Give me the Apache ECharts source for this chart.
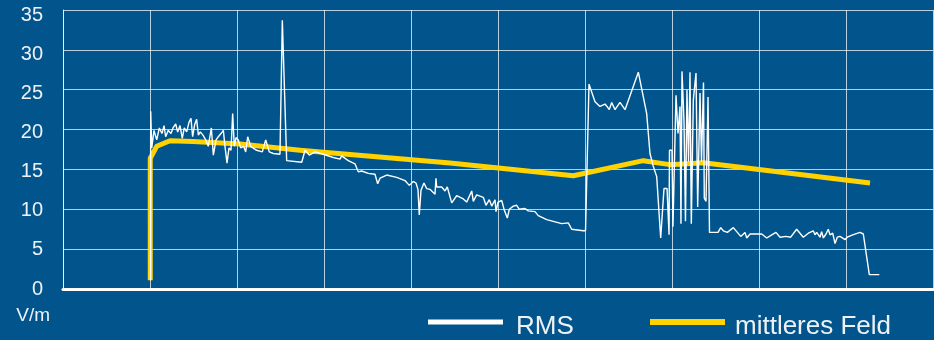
<!DOCTYPE html>
<html>
<head>
<meta charset="utf-8">
<script src="https://cdn.jsdelivr.net/npm/echarts@6/dist/echarts.min.js"></script>
<style>
  html, body { margin: 0; padding: 0; background: #02558c; }
  #container { width: 934px; height: 340px; }
</style>
</head>
<body>
<div id="container"></div>
<script>
// RMS field strength, [position, V/m]
var rmsPoints = [
  [1.006, 1.1], [1.008, 22.3], [1.02, 17.7], [1.046, 19.9], [1.077, 18.7], [1.107, 20.2],
  [1.138, 19.5], [1.161, 20.5], [1.18, 19.1], [1.21, 19.9], [1.241, 19.5], [1.264, 20.2],
  [1.295, 20.7], [1.318, 19.7], [1.345, 20.5], [1.371, 18.9], [1.394, 20.2], [1.422, 19.7],
  [1.448, 20.9], [1.471, 21.4], [1.49, 19.1], [1.513, 20.6], [1.536, 21.3], [1.556, 19.3],
  [1.578, 19.7], [1.609, 19.3], [1.64, 18.7], [1.67, 17.9], [1.705, 20.2], [1.728, 16.8],
  [1.759, 18.7], [1.785, 19.1], [1.816, 19.5], [1.843, 19.9], [1.862, 17.9], [1.885, 15.8],
  [1.908, 17.7], [1.931, 17.4], [1.95, 22.0], [1.969, 17.9], [1.989, 19.0], [2.015, 18.7],
  [2.042, 17.7], [2.077, 17.9], [2.1, 17.2], [2.123, 19.1], [2.157, 17.9], [2.226, 17.4],
  [2.291, 17.2], [2.33, 18.7], [2.371, 17.2], [2.418, 17.0], [2.494, 16.9], [2.521, 33.7],
  [2.571, 16.1], [2.744, 15.9], [2.782, 17.4], [2.831, 16.8], [2.897, 17.2], [2.992, 16.9],
  [3.107, 16.5], [3.184, 16.3], [3.203, 16.7], [3.279, 16.1], [3.356, 15.7], [3.394, 14.7],
  [3.433, 14.8], [3.509, 14.5], [3.586, 14.4], [3.617, 13.2], [3.644, 13.9], [3.721, 14.3],
  [3.836, 14.0], [3.931, 13.6], [3.98, 13.0], [4.026, 13.5], [4.057, 13.3], [4.08, 12.5],
  [4.095, 9.3], [4.115, 12.4], [4.149, 13.3], [4.18, 12.6], [4.218, 12.5], [4.276, 11.9],
  [4.287, 13.9], [4.295, 12.8], [4.353, 12.8], [4.391, 12.3], [4.417, 12.8], [4.468, 10.8],
  [4.525, 11.7], [4.601, 11.3], [4.64, 10.9], [4.698, 12.3], [4.716, 11.0], [4.755, 11.8],
  [4.831, 11.5], [4.862, 10.5], [4.9, 11.2], [4.928, 10.4], [4.966, 11.2], [4.977, 9.7],
  [5.0, 10.9], [5.043, 11.1], [5.072, 9.9], [5.107, 8.9], [5.13, 10.0], [5.176, 10.4],
  [5.215, 10.5], [5.245, 10.0], [5.31, 10.1], [5.348, 9.8], [5.425, 9.7], [5.463, 9.2],
  [5.56, 8.7], [5.732, 8.2], [5.808, 8.3], [5.847, 7.5], [5.98, 7.3], [6.006, 7.3],
  [6.046, 25.7], [6.115, 23.5], [6.172, 22.9], [6.23, 23.2], [6.253, 22.9], [6.279, 22.5],
  [6.307, 23.4], [6.345, 22.5], [6.402, 23.4], [6.46, 22.5], [6.613, 27.2], [6.709, 22.0],
  [6.747, 17.0], [6.782, 15.5], [6.824, 14.1], [6.87, 6.4], [6.908, 12.6], [6.943, 12.6],
  [6.966, 6.8], [6.971, 17.4], [7.0, 17.4], [7.011, 7.8], [7.046, 24.3], [7.069, 19.5],
  [7.092, 22.9], [7.103, 8.2], [7.115, 27.3], [7.138, 21.0], [7.155, 8.5], [7.172, 25.0],
  [7.19, 16.0], [7.207, 27.2], [7.222, 8.2], [7.245, 23.7], [7.276, 27.1], [7.295, 10.3],
  [7.322, 24.6], [7.339, 16.0], [7.362, 25.9], [7.371, 11.4], [7.391, 11.0], [7.414, 24.1],
  [7.431, 7.1], [7.494, 7.1], [7.529, 7.1], [7.56, 7.7], [7.59, 7.3], [7.636, 7.1],
  [7.705, 7.7], [7.744, 7.2], [7.79, 6.6], [7.839, 7.1], [7.859, 6.4], [7.897, 6.9],
  [7.974, 6.9], [8.031, 6.9], [8.089, 6.4], [8.146, 6.8], [8.195, 7.1], [8.241, 6.5],
  [8.31, 6.6], [8.364, 6.5], [8.433, 7.5], [8.509, 6.5], [8.567, 7.0], [8.624, 7.3],
  [8.644, 6.8], [8.663, 7.1], [8.701, 6.5], [8.72, 7.2], [8.74, 6.4], [8.77, 6.9],
  [8.796, 7.5], [8.816, 6.8], [8.847, 7.0], [8.874, 5.7], [8.9, 6.5], [8.931, 6.6],
  [8.989, 6.2], [9.015, 6.5], [9.077, 6.8], [9.161, 7.1], [9.199, 6.9], [9.268, 1.8],
  [9.383, 1.8]
];

// mittleres Feld (mean field)
var meanPoints = [
  [1.003, 1.1], [1.003, 16.4], [1.077, 17.9], [1.23, 18.6], [1.494, 18.5], [2.034, 18.2],
  [2.724, 17.4], [4.448, 15.8], [5.866, 14.2], [6.67, 16.1], [6.977, 15.6], [7.36, 15.85],
  [9.276, 13.3]
];

var seriesNames = ['RMS', 'mittleres Feld'];
var yTicks = { min: 0, max: 35, step: 5 };
var unitLabel = 'V/m';

var dom = document.getElementById('container');
var myChart = echarts.init(dom, null, { renderer: 'canvas' });

var gridColor = 'rgba(255,255,255,0.72)';
var textColor = '#eef2f6';

// legend label sits a bit lower than the swatch, as in the original
function legendLabel(padLeft) {
  return {
    formatter: function (name) { return '{t|' + name + '}'; },
    textStyle: {
      rich: {
        t: {
          color: textColor,
          fontFamily: 'Liberation Sans',
          fontSize: 26,
          padding: [10, 0, 0, padLeft]
        }
      }
    }
  };
}

var option = {
  backgroundColor: '#02558c',
  animation: false,
  grid: { left: 63, right: 1, top: 10, bottom: 51 },
  legend: [
    Object.assign({
      data: [seriesNames[0]],
      left: 423,
      top: 309,
      icon: 'rect',
      itemWidth: 75,
      itemHeight: 5,
      selectedMode: false
    }, legendLabel(8)),
    Object.assign({
      data: [seriesNames[1]],
      left: 645,
      top: 309,
      icon: 'rect',
      itemWidth: 75,
      itemHeight: 6,
      selectedMode: false
    }, legendLabel(5))
  ],
  xAxis: {
    type: 'value',
    min: 0,
    max: 10,
    interval: 1,
    axisLine: { show: true, onZero: false, lineStyle: { color: '#ffffff', width: 3 } },
    axisTick: { show: false },
    axisLabel: { show: false },
    splitLine: { show: true, lineStyle: { color: gridColor, width: 1 } }
  },
  yAxis: [
    {
      type: 'value',
      min: yTicks.min,
      max: yTicks.max,
      interval: yTicks.step,
      axisLine: { show: true, lineStyle: { color: gridColor, width: 1 } },
      axisTick: { show: false },
      axisLabel: { show: false },
      splitLine: { show: true, lineStyle: { color: gridColor, width: 1 } }
    },
    {
      // labels only, spaced slightly tighter than the grid like the original
      type: 'value',
      position: 'left',
      min: yTicks.min,
      max: 35.74,
      interval: yTicks.step,
      axisLine: { show: false },
      axisTick: { show: false },
      splitLine: { show: false },
      axisLabel: {
        show: true,
        margin: 20,
        showMaxLabel: false,
        color: textColor,
        fontFamily: 'Liberation Sans',
        fontSize: 20
      },
      name: unitLabel,
      nameLocation: 'start',
      nameGap: 17,
      nameTextStyle: {
        color: textColor,
        fontFamily: 'Liberation Sans',
        fontSize: 19,
        align: 'right',
        verticalAlign: 'top',
        padding: [0, 13, 0, 0]
      }
    }
  ],
  series: [
    {
      name: seriesNames[0],
      type: 'line',
      yAxisIndex: 0,
      data: rmsPoints,
      color: '#ffffff',
      showSymbol: false,
      symbol: 'none',
      z: 3,
      lineStyle: { color: '#ffffff', width: 1.4 }
    },
    {
      name: seriesNames[1],
      type: 'line',
      yAxisIndex: 0,
      data: meanPoints,
      color: '#ffd200',
      showSymbol: false,
      symbol: 'none',
      z: 2,
      lineStyle: { color: '#ffd200', width: 5, join: 'round' }
    }
  ]
};

myChart.setOption(option);
window.addEventListener('resize', myChart.resize);
</script>
</body>
</html>
